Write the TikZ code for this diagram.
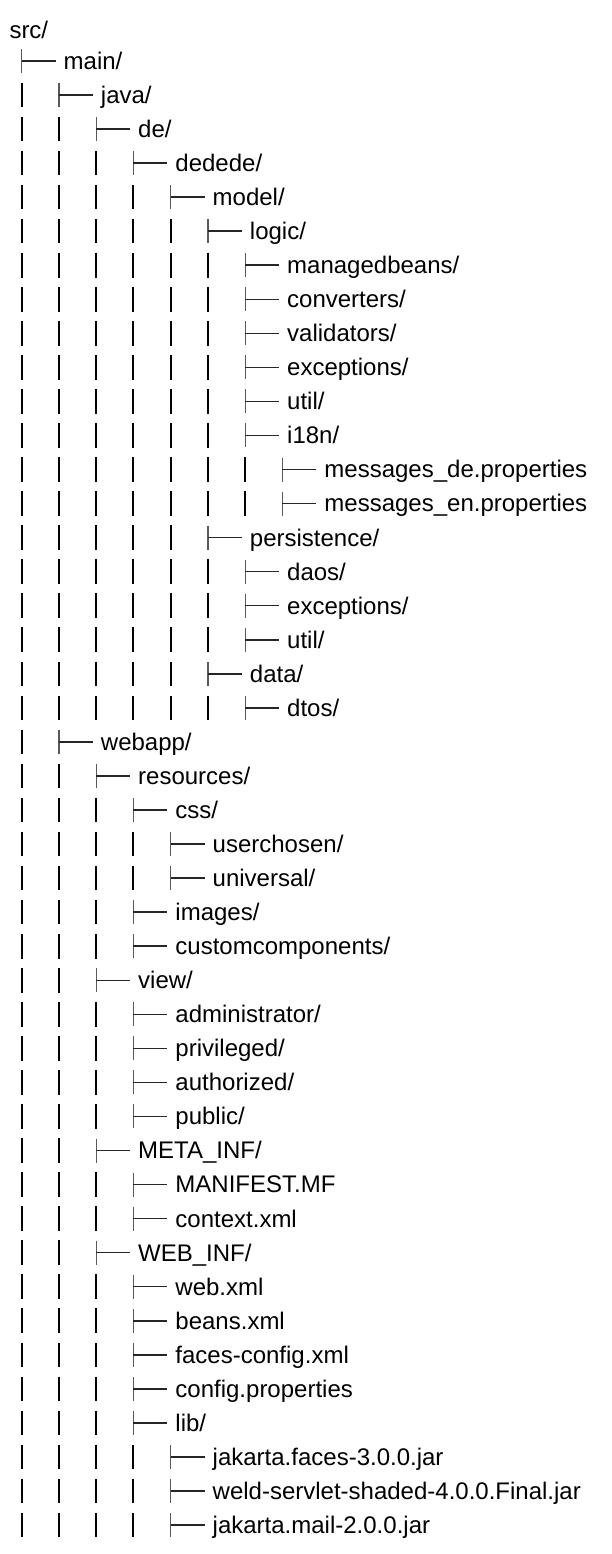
\documentclass[tikz,border=0pt]{standalone}
\usepackage{fontspec}
\setmainfont{Liberation Sans}
\tikzset{
  lbl/.style={anchor=base west, inner sep=0pt, outer sep=0pt, font=\fontsize{24}{28}\selectfont, text=black},
  barline/.style={line width=2pt, black},
  teev/.style={line width=1.1pt, black!65},
  teeh/.style={line width=1.5pt, black!85},
}
\newcommand{\Trow}[3]{%
  \pgfmathsetmacro{\Yb}{69.3+34.05*(#1-2)}%
  \pgfmathsetmacro{\Yc}{\Yb-8.4}%
  \pgfmathsetmacro{\Xt}{21.7+37.25*(#2-1)}%
  \pgfmathtruncatemacro{\Dm}{#2-1}%
  \node[lbl] (n#1) at (\Xt+42,\Yb) {#3};%
  \coordinate (t#1) at (\Xt,\Yc);%
  \ifnum#2>1
    \foreach \k in {1,...,\Dm}{%
      \draw[barline] ({21.7+37.25*(\k-1)},\Yc-12.3) -- ++(0,24.6);}%
  \fi
  \draw[teev] ([yshift=12pt]t#1) -- ([yshift=-12pt]t#1);%
  \draw[teeh] (t#1) -- ++(34,0);%
}
\begin{document}
\begin{tikzpicture}[x=1pt,y=-1pt]
\fill[white] (0,0) rectangle (612,1554);
\useasboundingbox (0,0) rectangle (612,1554);
\node[lbl] (n1) at (9.5,38.5) {src/};
\Trow{2}{1}{main/}
\Trow{3}{2}{java/}
\Trow{4}{3}{de/}
\Trow{5}{4}{dedede/}
\Trow{6}{5}{model/}
\Trow{7}{6}{logic/}
\Trow{8}{7}{managedbeans/}
\Trow{9}{7}{converters/}
\Trow{10}{7}{validators/}
\Trow{11}{7}{exceptions/}
\Trow{12}{7}{util/}
\Trow{13}{7}{i18n/}
\Trow{14}{8}{messages\_de.properties}
\Trow{15}{8}{messages\_en.properties}
\Trow{16}{6}{persistence/}
\Trow{17}{7}{daos/}
\Trow{18}{7}{exceptions/}
\Trow{19}{7}{util/}
\Trow{20}{6}{data/}
\Trow{21}{7}{dtos/}
\Trow{22}{2}{webapp/}
\Trow{23}{3}{resources/}
\Trow{24}{4}{css/}
\Trow{25}{5}{userchosen/}
\Trow{26}{5}{universal/}
\Trow{27}{4}{images/}
\Trow{28}{4}{customcomponents/}
\Trow{29}{3}{view/}
\Trow{30}{4}{administrator/}
\Trow{31}{4}{privileged/}
\Trow{32}{4}{authorized/}
\Trow{33}{4}{public/}
\Trow{34}{3}{META\_INF/}
\Trow{35}{4}{MANIFEST.MF}
\Trow{36}{4}{context.xml}
\Trow{37}{3}{WEB\_INF/}
\Trow{38}{4}{web.xml}
\Trow{39}{4}{beans.xml}
\Trow{40}{4}{faces-config.xml}
\Trow{41}{4}{config.properties}
\Trow{42}{4}{lib/}
\Trow{43}{5}{jakarta.faces-3.0.0.jar}
\Trow{44}{5}{weld-servlet-shaded-4.0.0.Final.jar}
\Trow{45}{5}{jakarta.mail-2.0.0.jar}
\end{tikzpicture}
\end{document}
